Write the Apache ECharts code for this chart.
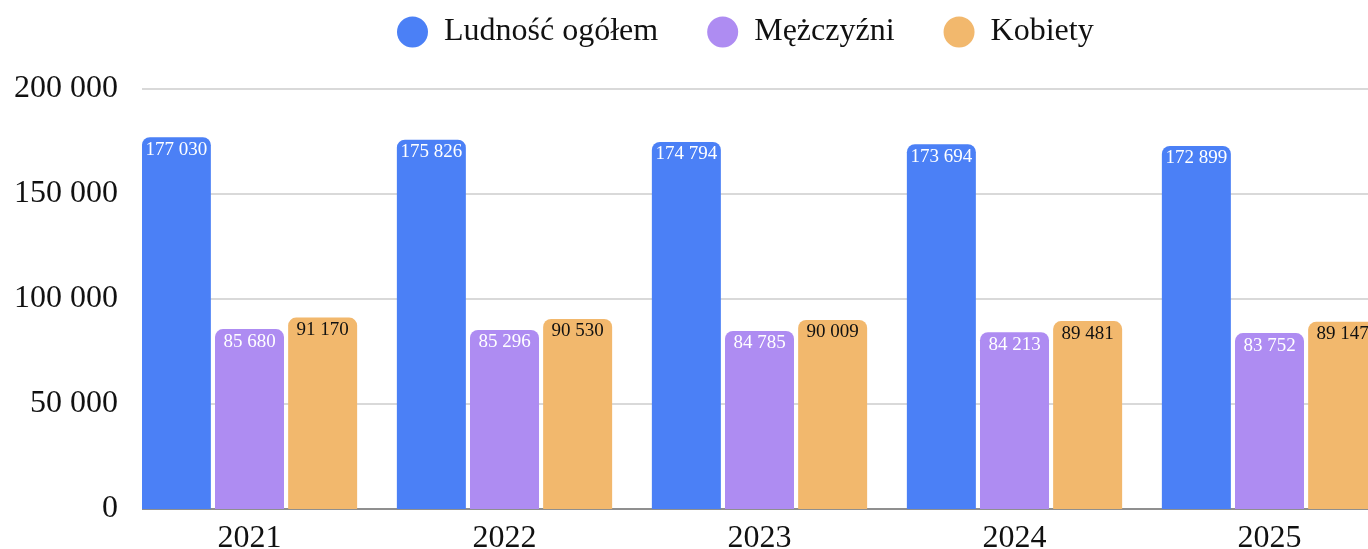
<!DOCTYPE html>
<html>
<head>
<meta charset="utf-8">
<script src="https://cdn.jsdelivr.net/npm/echarts@6/dist/echarts.min.js"></script>
<style>
    html, body { margin: 0; padding: 0; background: #fff; }
    #chart { width: 1368px; height: 549px; }
</style>
</head>
<body>
<div id="chart"></div>
<script>
// dane
const years = ['2021', '2022', '2023', '2024', '2025']
const ogolem = [177030, 175826, 174794, 173694, 172899]
const mezczyzni = [85680, 85296, 84785, 84213, 83752]
const kobiety = [91170, 90530, 90009, 89481, 89147]
const yTicks = [0, 50000, 100000, 150000, 200000]

const FONT = 'Liberation Serif'
const fmt = v => String(v).replace(/\B(?=(\d{3})+(?!\d))/g, ' ')

const chart = echarts.init(document.getElementById('chart'))

function barSeries(name, data, color, labelColor) {
    return {
        name: name,
        type: 'bar',
        data: data,
        barWidth: 69,
        barGap: '6%',
        itemStyle: {
            color: color,
            borderRadius: [8, 8, 0, 0],
        },
        label: {
            show: true,
            position: 'insideTop',
            distance: 3,
            color: labelColor,
            fontFamily: FONT,
            fontSize: 19,
            formatter: p => fmt(p.value),
        },
    }
}

chart.setOption({
    animation: false,
    textStyle: {fontFamily: FONT},
    legend: {
        top: 11,
        left: 392,
        icon: 'circle',
        itemWidth: 31,
        itemHeight: 31,
        itemGap: 49,
        textStyle: {
            fontFamily: FONT,
            fontSize: 32,
            color: '#111',
            padding: [0, 0, 0, 11],
        },
    },
    grid: {
        left: 122,
        width: 1275,
        top: 89,
        bottom: 40,
        containLabel: false,
        outerBoundsMode: 'none',
    },
    xAxis: {
        type: 'category',
        data: years,
        axisTick: {show: false},
        axisLine: {lineStyle: {color: '#777', width: 1.5}},
        axisLabel: {
            fontFamily: FONT,
            fontSize: 32,
            color: '#111',
            margin: 14,
        },
    },
    yAxis: {
        type: 'value',
        min: yTicks[0],
        max: yTicks[yTicks.length - 1],
        interval: yTicks[1] - yTicks[0],
        axisLine: {show: false},
        axisTick: {show: false},
        splitLine: {lineStyle: {color: '#cccccc', width: 1.5}},
        axisLabel: {
            fontFamily: FONT,
            fontSize: 32,
            color: '#111',
            margin: 4,
            formatter: v => fmt(v),
        },
    },
    graphic: [
        {
            // linie siatki zaczynają się dopiero przy pierwszym słupku
            type: 'rect',
            z: 100,
            shape: {x: 120, y: 80, width: 22, height: 440},
            style: {fill: '#fff'},
        },
    ],
    series: [
        barSeries('Ludność ogółem', ogolem, '#4b80f6', '#ffffff'),
        barSeries('Mężczyźni', mezczyzni, '#ae8cf2', '#ffffff'),
        barSeries('Kobiety', kobiety, '#f2b86d', '#111111'),
    ],
})
</script>
</body>
</html>
